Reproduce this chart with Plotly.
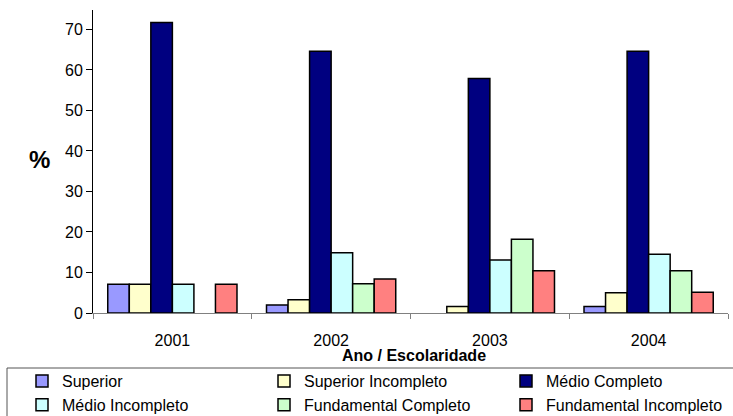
import plotly.graph_objects as go

# Share of respondents by schooling level, per year (%)
anos = ["2001", "2002", "2003", "2004"]
superior = [7.1, 2.0, 0.0, 1.6]
superior_incompleto = [7.1, 3.3, 1.6, 5.0]
medio_completo = [71.7, 64.6, 57.9, 64.6]
medio_incompleto = [7.1, 14.9, 13.1, 14.5]
fundamental_completo = [0.0, 7.2, 18.2, 10.4]
fundamental_incompleto = [7.1, 8.4, 10.4, 5.1]

series = [
    ("Superior", superior, "#9999FF"),
    ("Superior Incompleto", superior_incompleto, "#FFFFCC"),
    ("Médio Completo", medio_completo, "#000080"),
    ("Médio Incompleto", medio_incompleto, "#CCFFFF"),
    ("Fundamental Completo", fundamental_completo, "#CCFFCC"),
    ("Fundamental Incompleto", fundamental_incompleto, "#FF8080"),
]

FONT = "Liberation Sans, Arial, sans-serif"

fig = go.Figure()
for nome, valores, cor in series:
    # a zero share leaves an empty slot instead of a flat outlined bar
    alturas = [v if v > 0 else None for v in valores]
    fig.add_trace(go.Bar(
        x=anos, y=alturas, name=nome,
        marker=dict(color=cor, line=dict(color="black", width=1.5)),
    ))

W, H = 733, 416
ML, MR, MT, MB = 93, 5, 10, 103
PW, PH = W - ML - MR, H - MT - MB


def px_x(x):
    return (x - ML) / PW


def px_y(y):
    return (H - MB - y) / PH


fig.update_layout(
    width=W, height=H,
    margin=dict(l=ML, r=MR, t=MT, b=MB, autoexpand=False),
    paper_bgcolor="white", plot_bgcolor="white",
    barmode="group", bargap=0.186, bargroupgap=0,
    font=dict(family=FONT, size=16, color="black"),
    showlegend=True,
    legend=dict(
        orientation="h",
        x=px_x(22), y=px_y(364), xanchor="left", yanchor="top",
        entrywidth=197, entrywidthmode="pixels",
        borderwidth=0, bgcolor="rgba(0,0,0,0)",
        font=dict(family=FONT, size=16),
        tracegroupgap=0,
    ),
    xaxis=dict(
        type="category",
        showline=True, linecolor="#808080", linewidth=1,
        ticks="outside", tickson="boundaries", ticklen=5, tickcolor="#808080",
        tickfont=dict(size=16), ticklabelstandoff=13, showgrid=False,
    ),
    yaxis=dict(
        range=[0, 74.8], dtick=10, tick0=0,
        showline=True, linecolor="black", linewidth=1,
        ticks="outside", ticklen=6, tickcolor="black",
        tickfont=dict(size=16), showgrid=False, zeroline=False,
    ),
)

# frame around the legend, running off the right edge
fig.add_shape(
    type="rect", xref="paper", yref="paper",
    x0=px_x(7), x1=px_x(745), y0=px_y(368), y1=px_y(425),
    line=dict(color="#555555", width=1), fillcolor="rgba(0,0,0,0)",
)

fig.add_annotation(
    text="<b>%</b>", xref="paper", yref="paper",
    x=px_x(27), y=px_y(159), yanchor="middle",
    showarrow=False, font=dict(size=24, family=FONT),
)
fig.add_annotation(
    text="<b>Ano / Escolaridade</b>", xref="paper", yref="paper",
    x=px_x(414), y=px_y(355), yanchor="middle",
    showarrow=False, font=dict(size=16, family=FONT),
)

fig.write_html("out.html")
